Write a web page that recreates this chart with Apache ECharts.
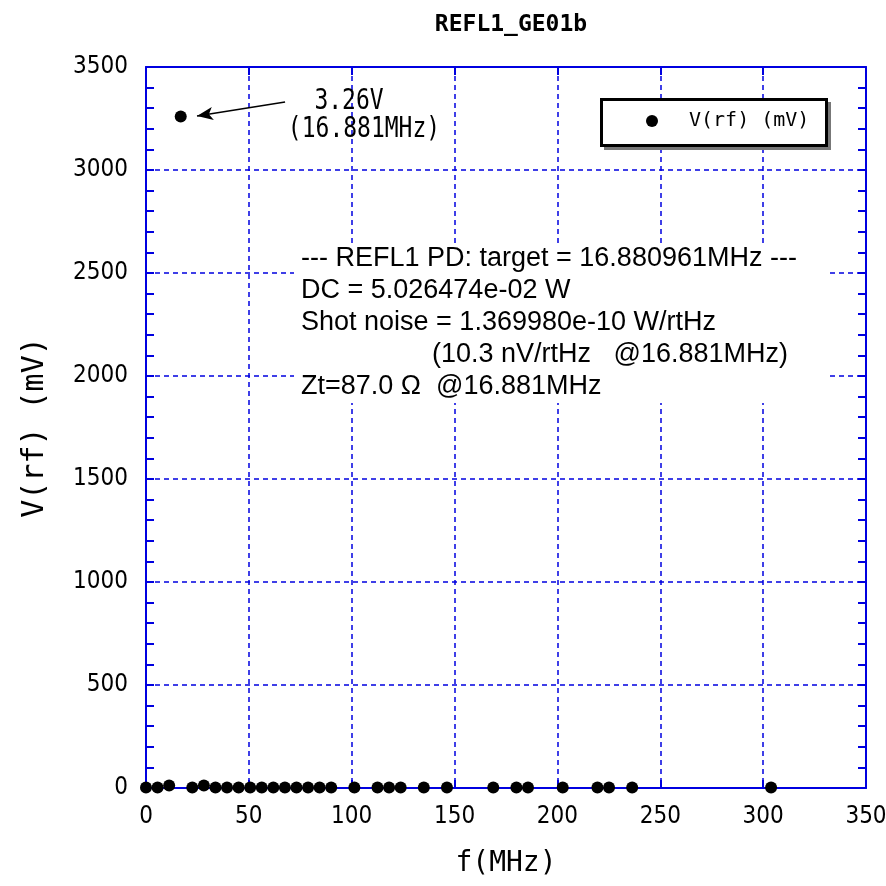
<!DOCTYPE html>
<html><head><meta charset="utf-8">
<script src="https://cdn.jsdelivr.net/npm/echarts@6/dist/echarts.min.js"></script>
<style>html,body{margin:0;padding:0;background:#fff}#c{width:886px;height:886px}</style>
</head><body><div id="c"></div>
<script>
// ---- data ----
const chartTitle = 'REFL1_GE01b';
const seriesName = 'V(rf) (mV)';
const freqMHz = [0, 5.63, 11.25, 16.88, 22.5, 28.14, 33.77, 39.39, 45.02, 50.65, 56.27, 61.9, 67.52, 73.15, 78.78, 84.4, 90.03, 101.29, 112.54, 118.17, 123.8, 135.05, 146.3, 168.81, 180.06, 185.69, 202.57, 219.45, 225.08, 236.33, 303.86];
const vrf_mV  = [2, 2, 12, 3260, 2, 12, 2, 2, 2, 2, 2, 2, 2, 2, 2, 2, 2, 2, 2, 2, 2, 2, 2, 2, 2, 2, 2, 2, 2, 2, 2];
const xTickValues = [0, 50, 100, 150, 200, 250, 300, 350];
const yTickValues = [0, 500, 1000, 1500, 2000, 2500, 3000, 3500];
const peakLabel = ['3.26V', '(16.881MHz)'];
const arrowFrom = [67.6, 3330];
const arrowTo = [24.8, 3262];
const infoLines = [
  '--- REFL1 PD: target = 16.880961MHz ---',
  'DC = 5.026474e-02 W',
  'Shot noise = 1.369980e-10 W/rtHz',
  '(10.3 nV/rtHz   @16.881MHz)',
  'Zt=87.0 \u03A9  @16.881MHz'
];

const BLUE = '#0000e0';
const NARROW = "'Liberation Sans Narrow', 'DejaVu Sans Condensed', sans-serif";
const MONO = "'DejaVu Sans Mono', 'Liberation Mono', monospace";
const SANS = "'Liberation Sans', Arial, sans-serif";

const chart = echarts.init(document.getElementById('c'), null, {renderer: 'canvas'});

const points = freqMHz.map((f, i) => [f, vrf_mV[i]]);

const baseX = {
  type: 'value', min: xTickValues[0], max: xTickValues[xTickValues.length - 1], interval: 50,
  axisLine: {show: true, onZero: false, lineStyle: {color: BLUE, width: 2}},
  axisTick: {show: true, inside: true, length: 8, lineStyle: {color: BLUE, width: 2}},
};
const baseY = {
  type: 'value', min: yTickValues[0], max: yTickValues[yTickValues.length - 1], interval: 500,
  axisLine: {show: true, onZero: false, lineStyle: {color: BLUE, width: 2}},
  axisTick: {show: true, inside: true, length: 8, lineStyle: {color: BLUE, width: 2}},
  minorTick: {show: true, splitNumber: 5, length: 8, lineStyle: {color: BLUE, width: 2}},
};
const splitStyle = {show: true, lineStyle: {color: BLUE, width: 1.5, type: [5, 4]}};

const infoY = [259, 291, 323, 355, 387];
const infoX = [301, 301, 301, 432, 301];

const graphics = [
  // info box background
  {type: 'rect', shape: {x: 294, y: 243, width: 532, height: 160}, style: {fill: '#fff'}, z: 50},
  ...infoLines.map((t, i) => ({
    type: 'text', x: infoX[i], y: infoY[i], z: 51,
    style: {text: t, fill: '#000', font: '27px ' + SANS, textVerticalAlign: 'middle', verticalAlign: 'middle'}
  })),
  {type: 'text', x: 349, y: 102, z: 51, scaleY: 1.25,
   style: {text: peakLabel[0], fill: '#000', font: '23px ' + MONO, align: 'center', verticalAlign: 'middle', textAlign: 'center', textVerticalAlign: 'middle'}},
  {type: 'text', x: 364, y: 130, z: 51, scaleY: 1.25,
   style: {text: peakLabel[1], fill: '#000', font: '23px ' + MONO, align: 'center', verticalAlign: 'middle', textAlign: 'center', textVerticalAlign: 'middle'}},
  // legend frame: shadow + bordered box
  {type: 'rect', shape: {x: 604, y: 102, width: 227, height: 48}, style: {fill: '#777'}, z: 60},
  {type: 'rect', shape: {x: 601.5, y: 99.5, width: 225, height: 46}, style: {fill: '#fff', stroke: '#000', lineWidth: 3}, z: 61}
];

chart.setOption({
  backgroundColor: '#fff',
  animation: false,
  title: {
    text: chartTitle, left: 506, top: 9, textAlign: 'center',
    textStyle: {fontFamily: MONO, fontWeight: 'bold', fontSize: 23, color: '#000'}
  },
  legend: {
    left: 601, top: 99, z: 70,
    data: [{name: seriesName, icon: 'circle'}],
    itemWidth: 12, itemHeight: 12, itemGap: 5,
    padding: [12, 16, 12, 45],
    textStyle: {fontFamily: MONO, fontSize: 20, color: '#000', padding: [0, 0, 0, 26]}
  },
  grid: {left: 146, right: 20, top: 67, bottom: 98, containLabel: false, outerBoundsMode: 'none'},
  xAxis: [
    Object.assign({}, baseX, {
      position: 'bottom',
      splitLine: splitStyle,
      axisLabel: {show: true, margin: 17, fontFamily: NARROW, fontSize: 24, color: '#000', formatter: v => String(v)},
      name: 'f(MHz)', nameLocation: 'middle', nameGap: 62,
      nameTextStyle: {fontFamily: MONO, fontSize: 28, color: '#000'}
    }),
    Object.assign({}, baseX, {
      position: 'top', splitLine: {show: false}, axisLabel: {show: false}
    })
  ],
  yAxis: [
    Object.assign({}, baseY, {
      position: 'left',
      splitLine: splitStyle,
      axisLabel: {show: true, margin: 18, fontFamily: NARROW, fontSize: 24, color: '#000', formatter: v => String(v)},
      name: seriesName, nameLocation: 'middle', nameGap: 96, nameRotate: 90,
      nameTextStyle: {fontFamily: MONO, fontSize: 30, color: '#000'}
    }),
    Object.assign({}, baseY, {
      position: 'right', splitLine: {show: false}, axisLabel: {show: false}
    })
  ],
  series: [{
    name: seriesName, type: 'scatter', xAxisIndex: 0, yAxisIndex: 0,
    data: points, symbol: 'circle', symbolSize: 12,
    itemStyle: {color: '#000', opacity: 1}, z: 5,
    markLine: {
      silent: true, animation: false,
      symbol: ['none', 'arrow'], symbolSize: [10, 16],
      lineStyle: {color: '#000', width: 1.5, type: 'solid'},
      label: {show: false},
      data: [[{coord: arrowFrom}, {coord: arrowTo}]]
    }
  }],
  graphic: graphics
});
</script>
</body></html>
